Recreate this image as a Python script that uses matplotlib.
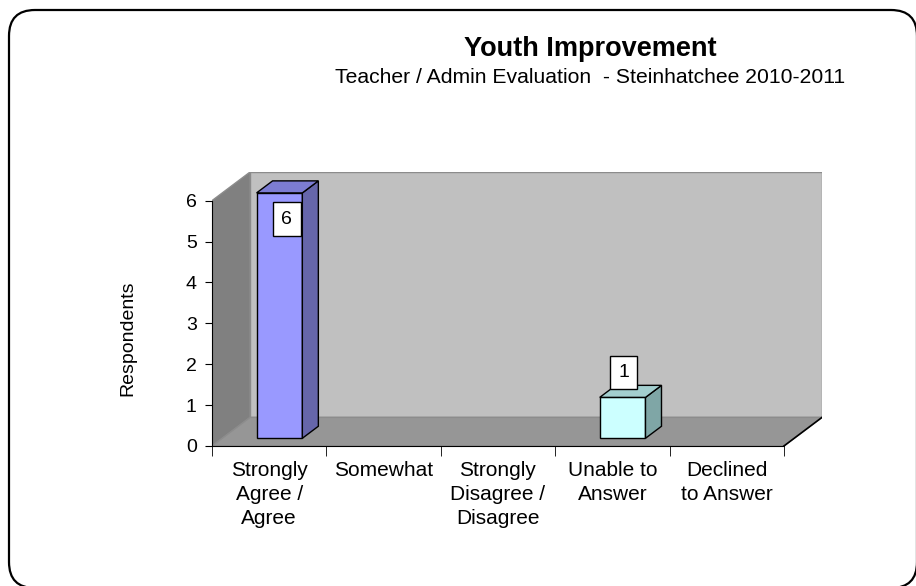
import matplotlib
matplotlib.use("Agg")
import matplotlib.pyplot as plt
from matplotlib.patches import Polygon, FancyBboxPatch
from matplotlib.transforms import IdentityTransform

plt.rcParams['font.family'] = ['Liberation Sans', 'DejaVu Sans']

# --- donnees ---
categories = ["Strongly\nAgree /\nAgree", "Somewhat", "Strongly\nDisagree /\nDisagree",
              "Unable to\nAnswer", "Declined\nto Answer"]
respondents = [6, 0, 0, 1, 0]
y_ticks = [0, 1, 2, 3, 4, 5, 6]
titre = "Youth Improvement"
sous_titre = "Teacher / Admin Evaluation  - Steinhatchee 2010-2011"

# couleurs (face, cote, dessus) par barre
faces = ["#9999ff", "#ccffff", "#ccffff", "#ccffff", "#ccffff"]
cotes = ["#6666aa", "#7fa6a6", "#7fa6a6", "#7fa6a6", "#7fa6a6"]
dessus = ["#7c7cd2", "#a3cfcf", "#a3cfcf", "#a3cfcf", "#a3cfcf"]

# profondeur 3D (en unites de donnees)
dx, dy = 0.333, 0.70
larg = 0.40
avant, arriere = 0.27, 0.69
ymax = max(y_ticks)

fig = plt.figure(figsize=(9.16, 5.86), dpi=100)
ax = fig.add_axes([212 / 916, 140 / 586, 610 / 916, 274 / 586])
ax.set_xlim(-0.5, len(categories) - 0.5 + dx)
ax.set_ylim(0, ymax + dy)
ax.patch.set_visible(False)

x0, x1 = -0.5, len(categories) - 0.5

# murs et sol
ax.add_patch(Polygon([(x0 + dx, dy), (x1 + dx, dy), (x1 + dx, ymax + dy), (x0 + dx, ymax + dy)],
                     closed=True, facecolor="#c0c0c0", edgecolor="#8c8c8c", lw=1, zorder=1))
ax.add_patch(Polygon([(x0, 0), (x0, ymax), (x0 + dx, ymax + dy), (x0 + dx, dy)],
                     closed=True, facecolor="#808080", edgecolor="#8c8c8c", lw=1, zorder=1))
ax.add_patch(Polygon([(x0, 0), (x1, 0), (x1 + dx, dy), (x0 + dx, dy)],
                     closed=True, facecolor="#969696", edgecolor="#8c8c8c", lw=1, zorder=1))
ax.plot([x1, x1 + dx], [0, dy], color="black", lw=1.2, zorder=2)

# barres 3D
for i, v in enumerate(respondents):
    if v <= 0:
        continue
    bx = i - larg / 2 + avant * dx
    by = avant * dy
    ex = (arriere - avant) * dx
    ey = (arriere - avant) * dy
    kw = dict(closed=True, edgecolor="black", lw=1, zorder=3)
    ax.add_patch(Polygon([(bx, by), (bx + larg, by), (bx + larg, by + v), (bx, by + v)],
                         facecolor=faces[i], **kw))
    ax.add_patch(Polygon([(bx + larg, by), (bx + larg + ex, by + ey), (bx + larg + ex, by + v + ey),
                          (bx + larg, by + v)], facecolor=cotes[i], **kw))
    ax.add_patch(Polygon([(bx, by + v), (bx + larg, by + v), (bx + larg + ex, by + v + ey),
                          (bx + ex, by + v + ey)], facecolor=dessus[i], **kw))
    # etiquette de valeur
    if v + 0.8 > ymax:
        lx, ly = i + 0.155, v - 0.45
    else:
        lx, ly = i + 0.10, v + 0.79
    ax.text(lx, ly, str(v), ha="center", va="center", fontsize=14, zorder=4,
            bbox=dict(boxstyle="square,pad=0.42", facecolor="white", edgecolor="black", lw=1))

# axes
for s in ["top", "right"]:
    ax.spines[s].set_visible(False)
ax.spines["left"].set_bounds(0, ymax)
ax.spines["bottom"].set_bounds(x0, x1)
ax.set_yticks(y_ticks)
ax.tick_params(axis="y", length=5, pad=6, labelsize=14)
ax.set_xticks(range(len(categories)))
ax.set_xticklabels(categories, fontsize=15, linespacing=1.32)
ax.set_xticks([x0 + k for k in range(len(categories) + 1)], minor=True)
ax.tick_params(axis="x", which="major", length=0, pad=11)
ax.tick_params(axis="x", which="minor", length=7)

fig.text(128 / 916, 1 - 338 / 586, "Respondents", rotation=90, ha="center", va="center", fontsize=14)
fig.text(590 / 916, 1 - 49 / 586, titre, ha="center", va="center", fontsize=19.5, fontweight="bold")
fig.text(590 / 916, 1 - 77 / 586, sous_titre, ha="center", va="center", fontsize=15.2)

# cadre arrondi
cadre = FancyBboxPatch((9, -2), 908, 578, boxstyle="round,pad=0,rounding_size=26",
                       transform=IdentityTransform(), facecolor="none", edgecolor="black", lw=1.6)
fig.patches.append(cadre)

fig.savefig("out.png", dpi=100)
